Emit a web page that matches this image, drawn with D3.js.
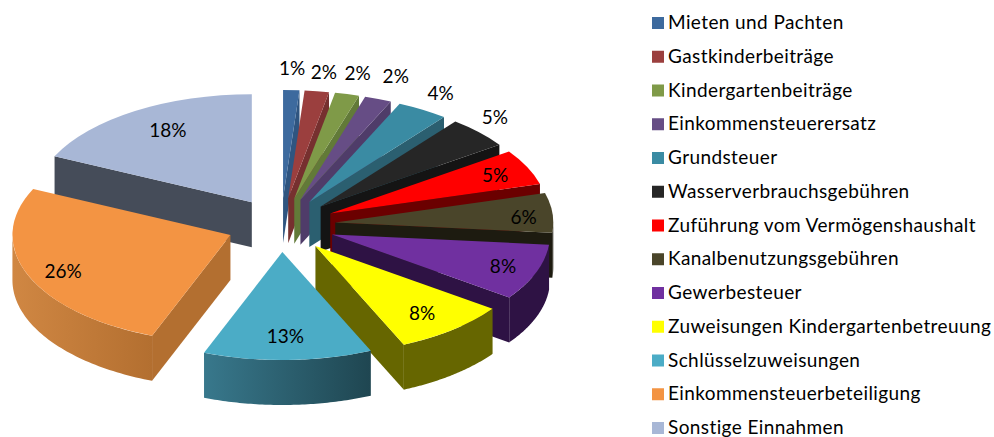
<!DOCTYPE html>
<html>
<head>
<meta charset="utf-8">
<script src="https://cdn.jsdelivr.net/npm/d3@7"></script>
<style>
  html, body { margin: 0; padding: 0; background: #fff; }
  svg { display: block; }
  text { font-family: Lato, Carlito, sans-serif; fill: #000; }
</style>
</head>
<body>
<div id="chart"></div>
<script>
const categories = [
    "Mieten und Pachten", "Gastkinderbeiträge", "Kindergartenbeiträge", "Einkommensteuerersatz",
    "Grundsteuer", "Wasserverbrauchsgebühren", "Zuführung vom Vermögenshaushalt",
    "Kanalbenutzungsgebühren", "Gewerbesteuer", "Zuweisungen Kindergartenbetreuung",
    "Schlüsselzuweisungen", "Einkommensteuerbeteiligung", "Sonstige Einnahmen"
];
const values = [1.2, 1.8, 1.8, 2.0, 3.8, 4.7, 5.3, 5.9, 8.4, 8.45, 12.5, 26.15, 18.0];
const percentLabels = ["1%", "2%", "2%", "2%", "4%", "5%", "5%", "6%", "8%", "8%", "13%", "26%", "18%"];

const topColors = ["#3d6a9e", "#9b3f3e", "#7f9a48", "#664d85", "#3a8ba3", "#262626", "#ff0000",
    "#4a452a", "#7030a0", "#ffff00", "#4bacc6", "#f39443", "#a8b7d6"];
const wallLeft = ["#2f5580", "#76302f", "#627a38", "#4f3c69", "#2b5f70", "#141414", "#6b0000",
    "#1d1b10", "#2e1244", "#666600", "#38788c", "#d08743", "#454c59"];
const wallRight = ["#2f5580", "#76302f", "#627a38", "#4f3c69", "#2b5f70", "#141414", "#6b0000",
    "#1d1b10", "#2e1244", "#666600", "#1f4651", "#b36f30", "#454c59"];
// where each percent label sits: angle in degrees, distance as a share of the radius
const labelAngle = [2, 8, 14, 21, 31, 44, 65, 87, 111, 142, 179, 246, 330];
const labelReach = [1.2, 1.18, 1.2, 1.22, 1.17, 1.15, 0.835, 0.865, 0.84, 0.795, 0.78, 0.84, 0.77];

const width = 994;
const height = 437;
const rx = 218;
const ry = 108;
const depth = 45;
const explode = 0.25;
const center = { x: 281, y: 225 };
const fontSize = 19;

const svg = d3.select("#chart")
    .append("svg")
    .attr("width", width)
    .attr("height", height);

const defs = svg.append("defs");

const slices = d3.pie().sort(null)(values);
const arc = d3.arc().innerRadius(0).outerRadius(rx);
const line = d3.line();

const rim = (a, r = 1) => [r * rx * Math.sin(a), -r * ry * Math.cos(a)];
const drop = p => [p[0], p[1] + depth];
const midAngle = d => (d.startAngle + d.endAngle) / 2;

// back slices first so the front ones paint over them
const order = d3.range(slices.length).sort((a, b) =>
    d3.descending(Math.cos(midAngle(slices[a])), Math.cos(midAngle(slices[b]))));

order.forEach(i => {
    const d = slices[i];
    const [ox, oy] = rim(midAngle(d), explode);
    const g = svg.append("g")
        .attr("transform", `translate(${center.x + ox},${center.y + oy})`);

    // cut face, only the one turned towards the viewer
    const cuts = [];
    if (d.endAngle <= Math.PI) cuts.push(d.endAngle);
    if (d.startAngle >= Math.PI) cuts.push(d.startAngle);
    cuts.forEach(a => {
        const p = rim(a);
        g.append("path")
            .attr("d", line([[0, 0], p, drop(p), [0, depth]]) + "Z")
            .attr("fill", wallRight[i]);
    });

    // outer wall
    const a0 = Math.max(d.startAngle, Math.PI / 2);
    const a1 = Math.min(d.endAngle, 3 * Math.PI / 2);
    if (a1 > a0) {
        const steps = d3.range(0, 61).map(t => a0 + (a1 - a0) * t / 60);
        const upper = steps.map(a => rim(a));
        const lower = upper.map(drop).reverse();
        const xs = d3.extent(upper, p => p[0]);
        const id = `wall${i}`;
        const grad = defs.append("linearGradient")
            .attr("id", id)
            .attr("gradientUnits", "userSpaceOnUse")
            .attr("x1", xs[0]).attr("x2", xs[1])
            .attr("y1", 0).attr("y2", 0);
        grad.append("stop").attr("offset", 0).attr("stop-color", wallLeft[i]);
        grad.append("stop").attr("offset", 1).attr("stop-color", wallRight[i]);
        g.append("path")
            .attr("d", line(upper.concat(lower)) + "Z")
            .attr("fill", `url(#${id})`);
    }

    // top face
    g.append("path")
        .attr("d", arc(d))
        .attr("transform", `scale(1,${ry / rx})`)
        .attr("fill", topColors[i]);
});

// percent labels go on top of all slices
slices.forEach((d, i) => {
    const [ox, oy] = rim(midAngle(d), explode);
    const [lx, ly] = rim(labelAngle[i] * Math.PI / 180, labelReach[i]);
    svg.append("text")
        .attr("x", center.x + ox + lx)
        .attr("y", center.y + oy + ly + 6.5)
        .attr("text-anchor", "middle")
        .attr("font-size", fontSize)
        .text(percentLabels[i]);
});

const legendY = d3.scalePoint().domain(categories).range([23, 428]);

const rows = svg.append("g")
    .selectAll("g")
    .data(categories)
    .enter()
    .append("g")
    .attr("transform", d => `translate(652,${legendY(d)})`);

rows.append("rect")
    .attr("y", -6)
    .attr("width", 12)
    .attr("height", 12)
    .attr("fill", (d, i) => topColors[i]);

rows.append("text")
    .attr("x", 16)
    .attr("y", 6)
    .attr("font-size", fontSize)
    .attr("letter-spacing", 0.4)
    .text(d => d);
</script>
</body>
</html>
